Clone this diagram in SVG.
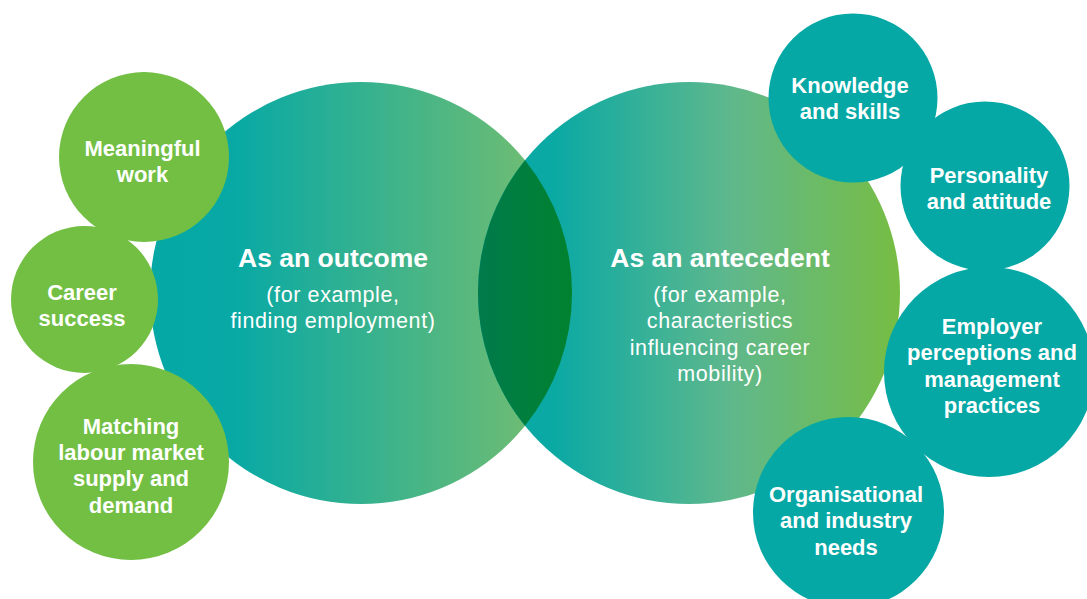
<svg xmlns="http://www.w3.org/2000/svg" width="1087" height="599" viewBox="0 0 1087 599">
  <defs>
    <linearGradient id="gLeft" gradientUnits="userSpaceOnUse" x1="150" y1="0" x2="572" y2="0">
      <stop offset="0" stop-color="#05a8a5"/>
      <stop offset="0.2" stop-color="#08a9a5"/>
      <stop offset="1" stop-color="#7cbf6c"/>
    </linearGradient>
    <linearGradient id="gRight" gradientUnits="userSpaceOnUse" x1="478" y1="0" x2="900" y2="0">
      <stop offset="0" stop-color="#05a8a5"/>
      <stop offset="0.18" stop-color="#0ba9a4"/>
      <stop offset="0.6" stop-color="#5fb88c"/>
      <stop offset="1" stop-color="#77bd43"/>
    </linearGradient>
    <linearGradient id="gLens" gradientUnits="userSpaceOnUse" x1="478" y1="0" x2="572" y2="0">
      <stop offset="0" stop-color="#007a4b"/>
      <stop offset="1" stop-color="#00822f"/>
    </linearGradient>
    <style>
      .green { fill: #72bf44; }
      .teal { fill: #05a8a5; }
      .lbl { font-family: "Liberation Sans", Arial, sans-serif; font-weight: bold; font-size: 22px; fill: #ffffff; text-anchor: middle; }
      .title { font-family: "Liberation Sans", Arial, sans-serif; font-weight: bold; font-size: 26.5px; fill: #ffffff; text-anchor: middle; }
      .sub { font-family: "Liberation Sans", Arial, sans-serif; font-size: 21.5px; letter-spacing: 0.6px; fill: #ffffff; text-anchor: middle; }
    </style>
  </defs>
  <rect width="1087" height="599" fill="#ffffff"/>

  <g id="outcome">
    <circle cx="361" cy="293" r="211" fill="url(#gLeft)"/>
  </g>
  <g id="antecedent">
    <circle cx="689" cy="293" r="211" fill="url(#gRight)"/>
  </g>
  <g id="overlap">
    <path d="M525,160.2 A211,211 0 0 1 525,425.8 A211,211 0 0 1 525,160.2 Z" fill="url(#gLens)"/>
  </g>
  <g id="outcome-label">
    <text class="title" x="333" y="267">As an outcome</text>
    <text class="sub" x="333" y="302">(for example,</text>
    <text class="sub" x="333" y="328">finding employment)</text>
  </g>
  <g id="antecedent-label">
    <text class="title" x="720" y="267">As an antecedent</text>
    <text class="sub" x="720" y="302">(for example,</text>
    <text class="sub" x="720" y="328">characteristics</text>
    <text class="sub" x="720" y="355">influencing career</text>
    <text class="sub" x="720" y="381">mobility)</text>
  </g>

  <g id="meaningful-work">
    <circle class="green" cx="144" cy="157" r="85"/>
    <text class="lbl" x="142.5" y="156">Meaningful</text>
    <text class="lbl" x="142.5" y="182">work</text>
  </g>
  <g id="career-success">
    <circle class="green" cx="84.5" cy="299.5" r="73.5"/>
    <text class="lbl" x="82" y="300">Career</text>
    <text class="lbl" x="82" y="326">success</text>
  </g>
  <g id="matching">
    <circle class="green" cx="131" cy="462" r="98"/>
    <text class="lbl" x="131" y="434">Matching</text>
    <text class="lbl" x="131" y="460">labour market</text>
    <text class="lbl" x="131" y="486">supply and</text>
    <text class="lbl" x="131" y="513">demand</text>
  </g>

  <g id="knowledge-skills">
    <circle class="teal" cx="853" cy="98" r="84.5"/>
    <text class="lbl" x="850" y="93">Knowledge</text>
    <text class="lbl" x="850" y="119">and skills</text>
  </g>
  <g id="personality-attitude">
    <circle class="teal" cx="985" cy="186" r="84.5"/>
    <text class="lbl" x="989" y="183">Personality</text>
    <text class="lbl" x="989" y="209">and attitude</text>
  </g>
  <g id="employer-perceptions">
    <circle class="teal" cx="989" cy="372" r="105"/>
    <text class="lbl" x="992" y="334">Employer</text>
    <text class="lbl" x="992" y="360">perceptions and</text>
    <text class="lbl" x="992" y="387">management</text>
    <text class="lbl" x="992" y="413">practices</text>
  </g>
  <g id="organisational-needs">
    <circle class="teal" cx="848.5" cy="512.5" r="95.5"/>
    <text class="lbl" x="846" y="502">Organisational</text>
    <text class="lbl" x="846" y="528">and industry</text>
    <text class="lbl" x="846" y="555">needs</text>
  </g>
</svg>
